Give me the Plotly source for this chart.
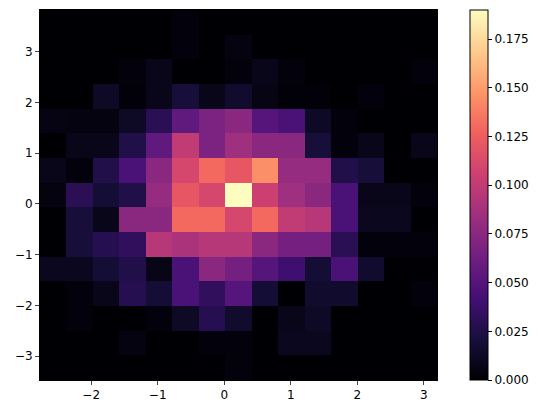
import plotly.graph_objects as go
import numpy as np

x_edges = list(np.linspace(-2.77, 3.20, 16))
y_edges = list(np.linspace(-3.47, 3.82, 16))

# rows listed from top (highest y) to bottom
z_top_down = [
    [0,0,0,0,0,0.003,0,0,0,0,0,0,0,0,0],
    [0,0,0,0,0,0.003,0,0.004,0,0,0,0,0,0,0],
    [0,0,0,0.003,0.008,0,0,0.003,0.008,0.003,0,0,0,0,0.003],
    [0,0,0.012,0.002,0.008,0.02,0.008,0.015,0.006,0.002,0.002,0,0.003,0,0],
    [0.005,0.004,0.004,0.012,0.03,0.055,0.068,0.075,0.05,0.045,0.012,0.003,0,0,0],
    [0,0.008,0.008,0.025,0.055,0.1,0.068,0.085,0.075,0.075,0.02,0.003,0.008,0,0.008],
    [0.008,0.003,0.025,0.045,0.075,0.11,0.13,0.12,0.145,0.08,0.08,0.025,0.02,0,0],
    [0.004,0.03,0.018,0.025,0.08,0.12,0.11,0.19,0.105,0.085,0.075,0.045,0.008,0.008,0.003],
    [0,0.02,0.008,0.075,0.075,0.13,0.13,0.11,0.13,0.1,0.095,0.045,0.01,0.01,0],
    [0,0.02,0.028,0.033,0.095,0.09,0.095,0.095,0.075,0.065,0.065,0.03,0.003,0.003,0.003],
    [0.01,0.01,0.018,0.025,0.007,0.045,0.075,0.065,0.05,0.04,0.018,0.045,0.015,0,0],
    [0,0.003,0.008,0.028,0.018,0.045,0.033,0.05,0.018,0,0.015,0.015,0,0,0.003],
    [0,0.003,0,0,0.003,0.012,0.028,0.015,0,0.008,0.012,0,0,0,0],
    [0,0,0,0.004,0,0,0.003,0.003,0,0.01,0.01,0,0,0,0],
    [0,0,0,0,0,0,0,0.003,0,0,0,0,0,0,0],
]
z = z_top_down[::-1]

cb_ticks = [0, 0.025, 0.05, 0.075, 0.1, 0.125, 0.15, 0.175]
x_ticks = [-2, -1, 0, 1, 2, 3]
y_ticks = [-3, -2, -1, 0, 1, 2, 3]

fig = go.Figure(go.Heatmap(
    x=x_edges, y=y_edges, z=z, colorscale="Magma", zmin=0, zmax=0.19,
    colorbar=dict(x=1.058, xanchor="left", thickness=18, len=1, y=0.5, yanchor="middle",
                  lenmode="fraction", ypad=0, outlinewidth=1, outlinecolor="black",
                  tickvals=cb_ticks, ticktext=[f"{v:.3f}" for v in cb_ticks],
                  ticks="outside", ticklen=4, tickcolor="black"),
))
fig.update_layout(
    width=531, height=405, margin=dict(l=32, r=102, t=2, b=33, autoexpand=False),
    plot_bgcolor="white", paper_bgcolor="white",
    font=dict(family="DejaVu Sans", size=12, color="black"),
)
fig.update_xaxes(range=[-2.77, 3.20], tickvals=x_ticks, ticks="outside", ticklen=4,
                 showgrid=False, zeroline=False, showline=True, linecolor="black", mirror=True,
                 automargin=False)
fig.update_yaxes(range=[-3.47, 3.82], tickvals=y_ticks, ticks="outside", ticklen=4,
                 showgrid=False, zeroline=False, showline=True, linecolor="black", mirror=True,
                 automargin=False)
fig.write_html("out.html")
